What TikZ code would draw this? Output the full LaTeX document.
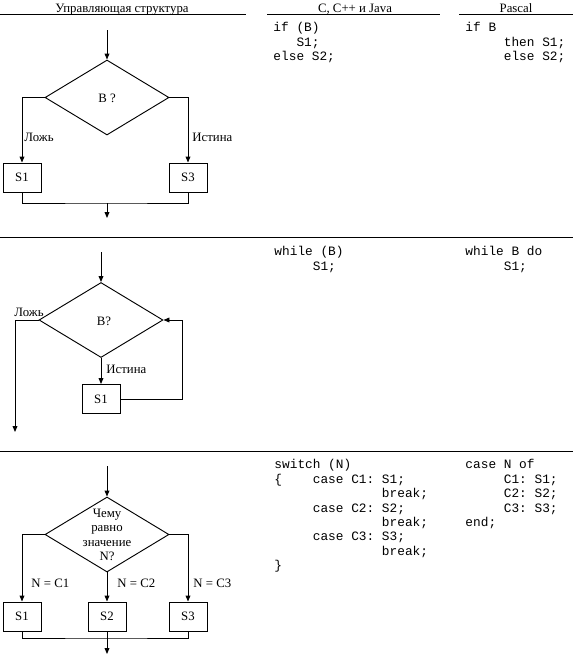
\documentclass[tikz,border=0pt]{standalone}
\usepackage{fontspec}
\setmainfont{Liberation Serif}
\setmonofont{Liberation Mono}
\usetikzlibrary{arrows.meta,shapes.geometric}
\newlength{\cw}
\setlength{\cw}{5.76pt}
\newcommand{\ind}[1]{\hspace*{#1\cw}}
\begin{document}
\begin{tikzpicture}[x={(0.75pt,0)}, y={(0,-0.75pt)}, line width=0.7pt,
 every node/.style={font=\fontsize{9.6}{10.8}\selectfont, inner sep=0},
 arr/.style={-{Triangle[length=4.5pt,width=3.6pt]}},
 box/.style={draw, rectangle, minimum width=28.5pt, minimum height=21.75pt},
 dia/.style={draw, diamond, minimum width=93pt, minimum height=56.25pt},
 code/.style={anchor=north west, align=left, font=\ttfamily\fontsize{9.6}{10.8}\selectfont},
 lbl/.style={anchor=west},
 hdr/.style={anchor=base}]
\useasboundingbox (0,0) rectangle (579,668);

% headers
\node[hdr] (h1) at (122,12) {Управляющая структура};
\node[hdr] (h2) at (355,12) {C, C++ и Java};
\node[hdr] (h3) at (516,12) {Pascal};
\draw (0,14.5) -- (246,14.5);
\draw (267,14.5) -- (440,14.5);
\draw (459,14.5) -- (573,14.5);
\draw (0,237) -- (573,237);
\draw (0,451.5) -- (573,451.5);

% section 1
\coordinate (a1) at (107,30);
\node[dia] (d1) at (107,97.5) {};
\node (t1) at (107,98) {B ?};
\node[box] (s11) at (22,177.5) {S1};
\node[box] (s13) at (188,177.5) {S3};
\draw[arr] (a1) -- (d1.north);
\draw[arr] (d1.west) -| (s11.north);
\draw[arr] (d1.east) -| (s13.north);
\node[lbl] (l11) at (24,137) {Ложь};
\node[lbl] (l13) at (192,137) {Истина};
\coordinate (m1) at (107,203);
\coordinate (e1) at (107,218);
\draw (s11.south) |- (m1) -| (s13.south);
\draw[arr] (m1) -- (e1);

\node[code] (c1) at (273,21.4) {\strut if (B)\\\strut\ind{3}S1;\\\strut else S2;};
\node[code] (p1) at (465,21.4) {\strut if B\\\strut\ind{5}then S1;\\\strut\ind{5}else S2;};

% section 2
\coordinate (a2) at (101,252);
\node[dia] (d2) at (101,320) {};
\node (t2) at (104,321) {B?};
\node[box] (s2) at (101,399) {S1};
\draw[arr] (a2) -- (d2.north);
\coordinate (e2) at (15,432);
\draw[arr] (d2.west) -| (e2);
\node[anchor=base west] (l21) at (14,316) {Ложь};
\draw[arr] (d2.south) -- (s2.north);
\node[lbl] (l22) at (106,369) {Истина};
\coordinate (c2) at (182,320);
\draw[arr] (s2.east) -| (c2) -- (d2.east);

\node[code] (c2t) at (274,245.4) {\strut while (B)\\\strut\ind{5}S1;};
\node[code] (p2) at (465,245.4) {\strut while B do\\\strut\ind{5}S1;};

% section 3
\coordinate (a3) at (107,466);
\node[dia] (d3) at (107,534.5) {};
\node[align=center, font=\fontsize{9.6}{10.7}\selectfont] (t3) at (107,535) {Чему\\равно\\значение\\N?};
\node[box] (s31) at (22,616.5) {S1};
\node[box] (s32) at (107,616.5) {S2};
\node[box] (s33) at (188,616.5) {S3};
\draw[arr] (a3) -- (d3.north);
\draw[arr] (d3.west) -| (s31.north);
\draw[arr] (d3.south) -- (s32.north);
\draw[arr] (d3.east) -| (s33.north);
\node[lbl] (l31) at (31,583) {N = C1};
\node[lbl] (l32) at (117,583) {N = C2};
\node[lbl] (l33) at (193,583) {N = C3};
\coordinate (m3) at (107,638);
\coordinate (e3) at (107,654);
\draw (s31.south) |- (m3) -| (s33.south);
\draw (s32.south) -- (m3);
\draw[arr] (m3) -- (e3);

\node[code] (c3) at (274,458.4) {\strut switch (N)\\\strut\{\ind{4}case C1: S1;\\\strut\ind{14}break;\\\strut\ind{5}case C2: S2;\\\strut\ind{14}break;\\\strut\ind{5}case C3: S3;\\\strut\ind{14}break;\\\strut\}};
\node[code] (p3) at (465,458.4) {\strut case N of\\\strut\ind{5}C1: S1;\\\strut\ind{5}C2: S2;\\\strut\ind{5}C3: S3;\\\strut end;};
\end{tikzpicture}
\end{document}
